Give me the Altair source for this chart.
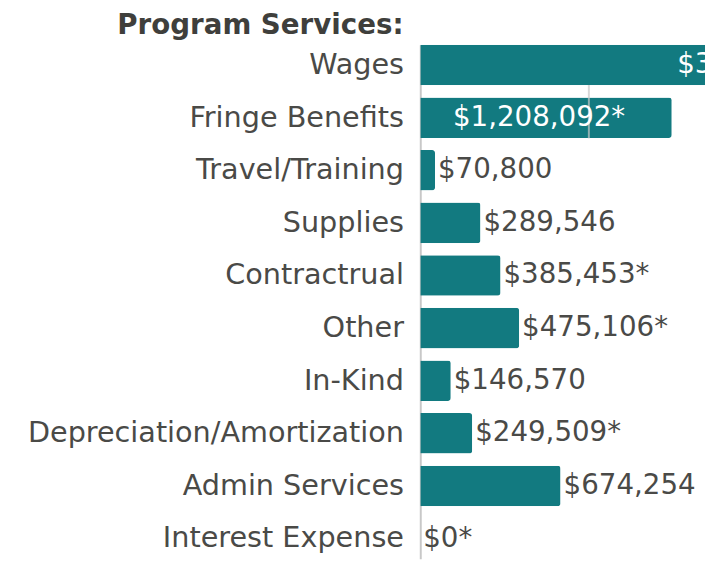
import altair as alt
import pandas as pd

categories = ["Wages", "Fringe Benefits", "Travel/Training", "Supplies", "Contractrual",
              "Other", "In-Kind", "Depreciation/Amortization", "Admin Services", "Interest Expense"]
values = [3296480, 1208092, 70800, 289546, 385453, 475106, 146570, 249509, 674254, 0]
labels = ["$3,296,480", "$1,208,092*", "$70,800", "$289,546", "$385,453*",
          "$475,106*", "$146,570", "$249,509*", "$674,254", "$0*"]
inside = [True, True, False, False, False, False, False, False, False, False]
grid_values = [810000]
x_max = 1368000

df = pd.DataFrame({"cat": categories, "val": values, "lab": labels, "inside": inside})
df["half"] = df["val"] / 2
grid_df = pd.DataFrame({"g": grid_values, "cat": ["Fringe Benefits"]})

FONT = "DejaVu Sans"
TEAL = "#127a80"
GRAY = "#4a4a47"

y_enc = alt.Y("cat:N", sort=categories,
              scale=alt.Scale(paddingInner=0.23, paddingOuter=0, round=False),
              axis=alt.Axis(title=None, ticks=False, labelPadding=17, labelFont=FONT,
                            labelFontSize=29, labelColor=GRAY, labelLimit=420,
                            domainColor="#c8c8c8", domainWidth=2, grid=False))
x_scale = alt.Scale(domain=[0, x_max])

bars = alt.Chart(df).mark_bar(color=TEAL, cornerRadiusEnd=3).encode(
    x=alt.X("val:Q", scale=x_scale, axis=None),
    y=y_enc,
)

grid = alt.Chart(grid_df).mark_tick(color="#c8c8c8", thickness=2, size=54, yOffset=-6,
                                    orient="vertical").encode(
    x=alt.X("g:Q", scale=x_scale),
    y=alt.Y("cat:N", sort=categories),
)

out_text = alt.Chart(df).transform_filter("!datum.inside").mark_text(
    align="left", baseline="middle", dx=3, font=FONT, fontSize=28, color=GRAY
).encode(
    x=alt.X("val:Q", scale=x_scale),
    y=alt.Y("cat:N", sort=categories),
    text="lab:N",
)

in_text = alt.Chart(df).transform_filter("datum.inside").mark_text(
    align="center", baseline="middle", dx=-7, font=FONT, fontSize=28, color="white"
).encode(
    x=alt.X("half:Q", scale=x_scale),
    y=alt.Y("cat:N", sort=categories),
    text="lab:N",
)

chart = alt.layer(bars, grid, out_text, in_text).properties(
    width=288, height=520,
    title=alt.TitleParams("Program Services:", anchor="start", frame="group", align="right",
                          dx=-17, offset=5, font=FONT, fontSize=28, fontWeight="bold",
                          color="#3f3f3c"),
    autosize=alt.AutoSizeParams(type="none"),
    padding={"left": 417, "top": 34, "right": 0, "bottom": 0},
).configure_view(stroke=None)

chart.save("out.html", embed_options={"renderer": "svg", "actions": False})
